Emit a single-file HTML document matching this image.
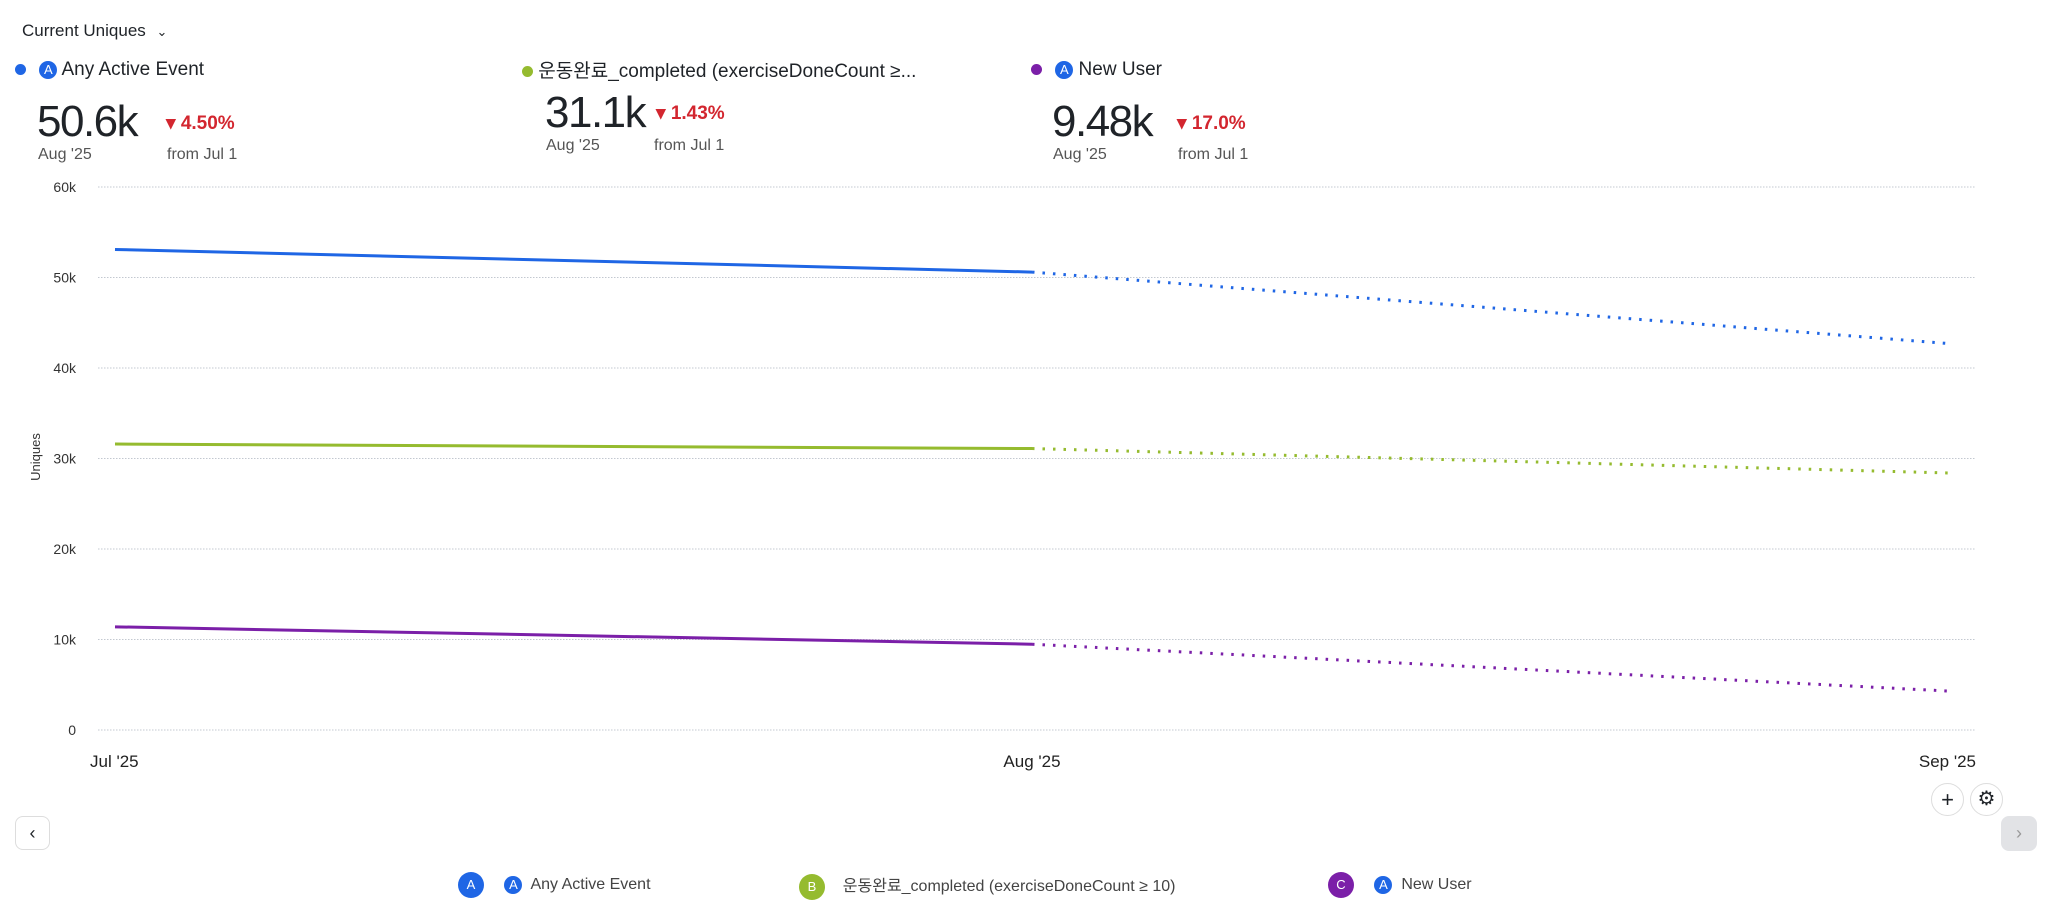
<!DOCTYPE html>
<html><head><meta charset="utf-8">
<style>
body{margin:0;width:2048px;height:917px;background:#fff;font-family:"Liberation Sans","Noto Sans CJK KR",sans-serif;color:#1f2328;position:relative;overflow:hidden}
.abs{position:absolute;white-space:nowrap}
.icon{display:inline-block;width:18px;height:18px;border-radius:50%;background:#1f66e5;color:#fff;font-size:13px;line-height:18px;text-align:center;vertical-align:middle}
.dot{display:inline-block;width:11px;height:11px;border-radius:50%}
.hdr{font-size:19px}
.big{font-size:44px;font-weight:500;letter-spacing:-1.5px}
.pct{font-size:19px;color:#d3262f;font-weight:600}
.sub{font-size:16px;color:#555}
.btn{position:absolute;border:1px solid #ddd;background:#fff;border-radius:50%;text-align:center}
</style></head><body>
<div class="abs" style="left:22px;top:21px;font-size:17px">Current Uniques <span style="font-size:13px;margin-left:6px">&#8964;</span></div>

<div>
<div class="abs hdr" style="left:15px;top:59px"><span class="dot" style="background:#1f66e5"></span> <span class="icon" style="margin-left:8px">A</span> Any Active Event</div>
<div class="abs big" style="left:37px;top:97px">50.6k</div>
<div class="abs pct" style="left:166px;top:112px">▾ 4.50%</div>
<div class="abs sub" style="left:38px;top:146px">Aug '25</div>
<div class="abs sub" style="left:167px;top:146px">from Jul 1</div>
</div>
<div>
<div class="abs hdr" style="left:522px;top:56px"><span class="dot" style="background:#95bb2f"></span> 운동완료_completed (exerciseDoneCount ≥...</div>
<div class="abs big" style="left:545px;top:88px">31.1k</div>
<div class="abs pct" style="left:656px;top:102px">▾ 1.43%</div>
<div class="abs sub" style="left:546px;top:137px">Aug '25</div>
<div class="abs sub" style="left:654px;top:137px">from Jul 1</div>
</div>
<div>
<div class="abs hdr" style="left:1031px;top:59px"><span class="dot" style="background:#7b1fa8"></span> <span class="icon" style="margin-left:8px">A</span> New User</div>
<div class="abs big" style="left:1052px;top:97px">9.48k</div>
<div class="abs pct" style="left:1177px;top:112px">▾ 17.0%</div>
<div class="abs sub" style="left:1053px;top:146px">Aug '25</div>
<div class="abs sub" style="left:1178px;top:146px">from Jul 1</div>
</div>

<svg id="chart" width="2048" height="917" style="position:absolute;left:0;top:0"></svg>

<div class="btn" style="left:1931px;top:783px;width:31px;height:31px;line-height:31px;font-size:22px">+</div>
<div class="btn" style="left:1970px;top:783px;width:31px;height:31px;line-height:31px;font-size:20px">⚙</div>
<div class="btn" style="left:15px;top:816px;width:33px;height:32px;line-height:32px;border-radius:8px;font-size:18px">‹</div>
<div class="btn" style="left:2001px;top:816px;width:34px;height:33px;line-height:33px;border-radius:8px;background:#e2e3e6;border-color:#e2e3e6;color:#999;font-size:18px">›</div>

<div>
<div class="abs" style="left:458px;top:872px;font-size:16px;color:#444"><span class="icon" style="width:26px;height:26px;line-height:26px;background:#1f66e5">A</span> <span class="icon" style="margin-left:16px">A</span>&nbsp; Any Active Event</div>
<div class="abs" style="left:799px;top:872px;font-size:16px;color:#444"><span class="icon" style="width:26px;height:26px;line-height:26px;background:#95bb2f">B</span> &nbsp;&nbsp;&nbsp;운동완료_completed (exerciseDoneCount ≥ 10)</div>
<div class="abs" style="left:1328px;top:872px;font-size:16px;color:#444"><span class="icon" style="width:26px;height:26px;line-height:26px;background:#7b1fa8">C</span> <span class="icon" style="margin-left:16px">A</span>&nbsp; New User</div>
</div>

<script>
const categories = ["Jul '25","Aug '25","Sep '25"];
const yTicks = [0,10000,20000,30000,40000,50000,60000];
const yTickLabels = ["0","10k","20k","30k","40k","50k","60k"];
const seriesA = [53100, 50600, 42700];
const seriesB = [31600, 31100, 28400];
const seriesC = [11400, 9480, 4300];
const colors = ["#1f66e5","#95bb2f","#7b1fa8"];

const svg = document.getElementById('chart');
const NS = "http://www.w3.org/2000/svg";
const x0=115, x1=1949, gx0=98, gx1=1975, yTop=187, yBot=730, yMax=60000;
function xs(i){return x0 + i*(x1-x0)/(categories.length-1);}
function ys(v){return yBot - v/yMax*(yBot-yTop);}
function mk(tag, attrs){const e=document.createElementNS(NS,tag);for(const k in attrs)e.setAttribute(k,attrs[k]);svg.appendChild(e);return e;}

yTicks.forEach((t,i)=>{
  const g = mk('line',{x1:gx0,x2:gx1,y1:ys(t),y2:ys(t),stroke:'#c3c8d0','stroke-width':1,'stroke-dasharray':'1.5 1.5'});
  
  
  const l = mk('text',{x:76,y:ys(t)+5,'text-anchor':'end','font-size':14,fill:'#333'});
  l.textContent = yTickLabels[i];
  
  
});
categories.forEach((c,i)=>{
  const anchor = i===0?'start':(i===categories.length-1?'end':'middle');
  const xx = i===0?xs(i)-25:(i===categories.length-1?xs(i)+27:xs(i));
  const t = mk('text',{x:xx,y:767,'text-anchor':anchor,'font-size':17,fill:'#222'});
  t.textContent = c;
  
  
});
const yt = mk('text',{x:0,y:0,transform:'translate(40,457) rotate(-90)','text-anchor':'middle','font-size':13,fill:'#333'});
yt.textContent='Uniques';



[seriesA,seriesB,seriesC].forEach((s,si)=>{
  const solid = mk('line',{x1:xs(0),y1:ys(s[0]),x2:xs(1),y2:ys(s[1]),stroke:colors[si],'stroke-width':3});
  
  
  const dot = mk('line',{x1:xs(1),y1:ys(s[1]),x2:xs(2),y2:ys(s[2]),stroke:colors[si],'stroke-width':3,'stroke-dasharray':'2.5 8'});
  
  
});
</script>
</body></html>
